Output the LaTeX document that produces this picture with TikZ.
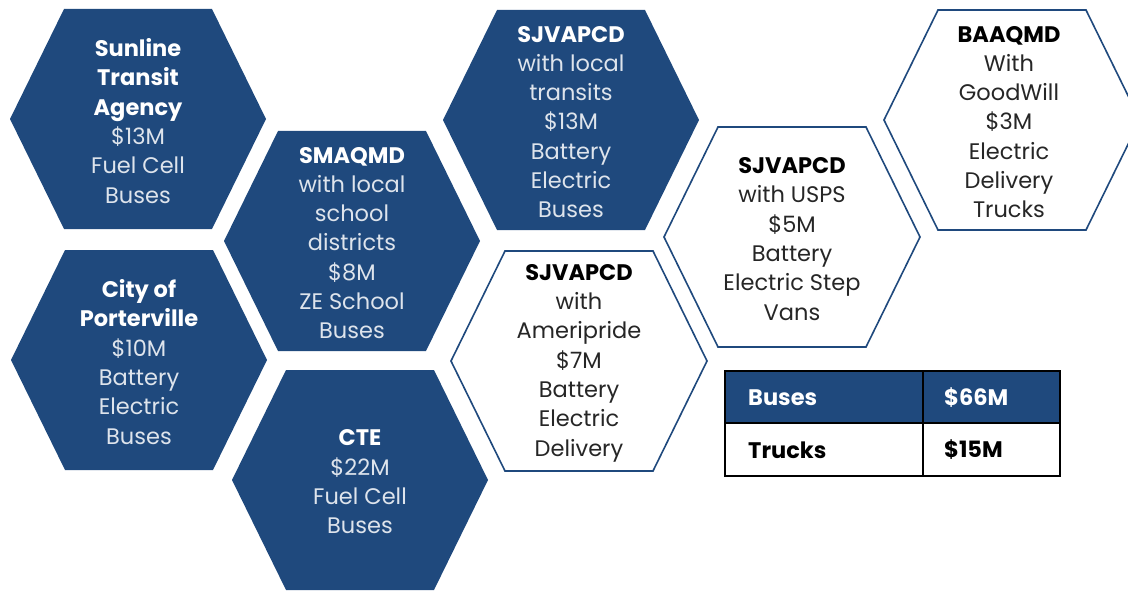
\documentclass[tikz,border=0pt]{standalone}
\usepackage{fontspec}
\setmainfont{Poppins}
\definecolor{hexblue}{RGB}{31,73,125}
\definecolor{lighttxt}{RGB}{222,228,236}
\definecolor{darktxt}{RGB}{38,38,38}
\newcommand\hexpath[3]{\path[#1] (#2-128,#3) -- (#2-74,#3-110) -- (#2+74,#3-110) -- (#2+128,#3) -- (#2+74,#3+110) -- (#2-74,#3+110) -- cycle;}
\newcommand\wt[1]{{\bfseries\color{white}#1}}
\newcommand\bt[1]{{\bfseries\color{black}#1}}
\begin{document}
\begin{tikzpicture}[x=1pt,y=-1pt,
  filledhex/.style={fill=hexblue},
  outlinehex/.style={draw=hexblue, line width=1.6pt, fill=white},
  hextext/.style={align=center, font=\fontsize{22.5}{29.3}\selectfont, inner sep=0pt},
  ontext/.style={hextext, text=lighttxt},
  offtext/.style={hextext, text=darktxt},
  cell/.style={anchor=west, font=\fontsize{22.5}{25}\selectfont\bfseries, inner sep=0pt}]
\useasboundingbox (0,0) rectangle (1128,591);
% hexagons
\hexpath{filledhex}{138}{119}
\hexpath{filledhex}{139}{360}
\hexpath{filledhex}{352}{241}
\hexpath{filledhex}{360}{480}
\hexpath{filledhex}{571}{120}
\hexpath{outlinehex}{579}{361}
\hexpath{outlinehex}{792}{237}
\hexpath{outlinehex}{1012}{120}
% texts
\node[ontext] (sunline) at (138,121) {\wt{Sunline}\\\wt{Transit}\\\wt{Agency}\\\$13M\\Fuel Cell\\Buses};
\node[ontext] (porter) at (139,362) {\wt{City of}\\\wt{Porterville}\\\$10M\\Battery\\Electric\\Buses};
\node[ontext] (smaqmd) at (352,243) {\wt{SMAQMD}\\with local\\school\\districts\\\$8M\\ZE School\\Buses};
\node[ontext] (cte) at (360,482) {\wt{CTE}\\\$22M\\Fuel Cell\\Buses};
\node[ontext] (sjv1) at (571,122) {\wt{SJVAPCD}\\with local\\transits\\\$13M\\Battery\\Electric\\Buses};
\node[offtext] (sjv2) at (579,363) {\bt{SJVAPCD}\\with\\Ameripride\\\$7M\\Battery\\Electric\\Delivery};
\node[offtext] (sjv3) at (792,239) {\bt{SJVAPCD}\\with USPS\\\$5M\\Battery\\Electric Step\\Vans};
\node[offtext] (baaqmd) at (1009,122) {\bt{BAAQMD}\\With\\GoodWill\\\$3M\\Electric\\Delivery\\Trucks};
% table
\coordinate (tl) at (725,371);
\coordinate (br) at (1060,476);
\fill[hexblue] (tl) rectangle (1060,423);
\draw[line width=1.5pt] (tl) rectangle (br);
\draw[line width=1.5pt] (923,371) -- (923,476);
\draw[line width=1.5pt] (725,423) -- (1060,423);
\node[cell, text=white] (bus) at (748,398) {Buses};
\node[cell, text=white] (busv) at (944,398) {\$66M};
\node[cell, text=black] (trk) at (748,450) {Trucks};
\node[cell, text=black] (trkv) at (944,450) {\$15M};
\end{tikzpicture}
\end{document}
